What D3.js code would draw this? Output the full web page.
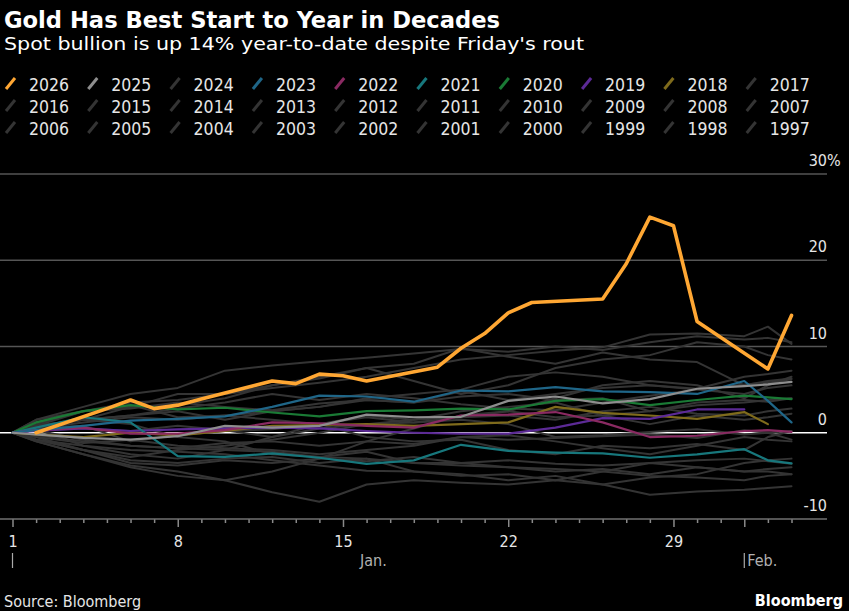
<!DOCTYPE html>
<html>
<head>
<meta charset="utf-8">
<title>Gold Has Best Start to Year in Decades</title>
<script src="https://cdn.jsdelivr.net/npm/d3@7"></script>
<style>
  html, body { margin: 0; padding: 0; background: #000; }
  svg { display: block; }
  text { font-family: "DejaVu Sans Condensed", "DejaVu Sans", sans-serif; }
</style>
</head>
<body>
<svg id="chart" width="849" height="611"></svg>
<script>
// ---- data (percent change from year start) ----
var legendYears = [2026, 2025, 2024, 2023, 2022, 2021, 2020, 2019, 2018, 2017,
                   2016, 2015, 2014, 2013, 2012, 2011, 2010, 2009, 2008, 2007,
                   2006, 2005, 2004, 2003, 2002, 2001, 2000, 1999, 1998, 1997];

// 2026 trading days (day of year) and values
var days2026 = [2, 5, 6, 7, 8, 9, 12, 13, 14, 15, 16, 19, 20, 21, 22, 23, 26, 27, 28, 29, 30, 33, 34];
var y2026 = [0, 2.8, 3.8, 2.8, 3.2, 3.9, 6.0, 5.7, 6.8, 6.6, 6.0, 7.6, 9.8, 11.5, 13.9, 15.1, 15.5, 19.6, 25.0, 24.0, 12.9, 7.4, 13.6];

// other years, read at these days
var gridDays = [1, 2, 4, 6, 8, 10, 12, 14, 16, 18, 20, 22, 24, 26, 28, 30, 32, 33, 34];

var y2025 = [0, -0.2, -0.6, -0.8, -0.4, 0.8, 0.6, 0.8, 2.1, 1.8, 1.85, 3.7, 4.2, 3.4, 3.9, 5.1, 5.4, 5.6, 5.9];
var y2024 = [0, 0.3, -0.8, -1.5, -1.8, -1.2, -1.0, -1.5, -1.0, -1.3, -0.5, -0.8, -0.6, -0.4, -0.2, -0.6, 0.3, 0.0, 0.2];
var y2023 = [0, 0.3, 0.8, 1.4, 1.6, 1.9, 3.0, 4.3, 4.2, 3.6, 4.9, 4.8, 5.3, 4.8, 4.7, 4.5, 6.0, 3.7, 1.2];
var y2022 = [0, 0.3, 0.6, -0.1, -0.1, 0.3, 1.2, 1.1, 0.8, 0.6, 2.0, 2.1, 2.4, 1.2, -0.5, -0.35, 0.2, 0.3, 0.1];
var y2021 = [0, 0.6, 1.8, 1.2, -2.7, -2.8, -2.4, -2.9, -3.6, -3.2, -1.4, -2.1, -2.3, -2.4, -2.9, -2.5, -1.9, -3.2, -3.55];
var y2020 = [0, 1.2, 2.5, 3.2, 2.7, 2.9, 2.35, 1.9, 2.5, 2.6, 2.8, 2.7, 3.7, 3.9, 3.2, 3.8, 4.3, 4.1, 3.9];
var y2019 = [0, 0.2, 0.5, 0.2, 0.4, 0.5, 0.6, 0.5, 0.2, 0.0, -0.1, -0.1, 0.6, 1.7, 1.6, 2.7, 2.7];
var y2018 = [0, -0.2, -0.5, 0.0, -0.3, 0.2, 0.8, 0.9, 1.0, 0.8, 1.0, 1.2, 3.0, 2.3, 2.0, 1.6, 2.4, 1.0];
var y2017 = [0, 0.8, 1.5, 2.0, 2.8, 3.5, 4.5, 3.8, 4.5, 4.0, 3.3, 2.8, 2.6, 3.5, 4.3, 5.0, 5.6, 5.8, 6.2];
var y2016 = [0, 1.0, 2.5, 2.8, 3.5, 3.0, 2.6, 3.4, 3.8, 3.5, 4.8, 3.8, 4.5, 5.2, 5.5, 5.1, 6.5, 6.8, 7.2];
var y2015 = [0, 0.8, 1.5, 3.0, 3.2, 4.0, 5.5, 6.3, 7.5, 8.0, 9.8, 8.8, 8.0, 9.3, 8.5, 8.2, 5.5, 6.0, 6.3];
var y2014 = [0, 0.5, 1.2, 1.8, 1.5, 2.0, 2.5, 3.0, 3.8, 3.5, 4.2, 4.5, 3.8, 4.0, 2.5, 3.2, 3.5, 3.8, 4.0];
var y2013 = [0, 0.5, 0.8, -1.0, -0.3, 0.2, 0.4, 1.0, 1.8, 1.2, 1.5, 1.0, -0.5, -0.3, 0.1, 0.4, -0.2, 0.0, -0.8];
var y2012 = [0, 1.2, 2.5, 3.0, 4.5, 4.5, 5.2, 5.8, 6.5, 7.5, 8.5, 9.0, 9.5, 9.9, 11.4, 11.5, 11.2, 12.3, 10.3];
var y2011 = [0, -0.8, -2.0, -3.2, -3.5, -3.0, -2.8, -3.5, -3.0, -4.5, -4.8, -5.5, -5.0, -6.0, -5.2, -4.8, -3.5, -3.2, -3.0];
var y2010 = [0, 1.5, 2.5, 3.2, 1.8, 2.0, 1.5, 1.0, -0.5, -1.0, -0.8, -2.0, -2.5, -1.5, -1.8, -1.3, -2.0, -0.5, 0.2];
var y2009 = [0, -1.0, -2.5, -4.0, -5.0, -5.5, -4.5, -3.0, -1.0, 0.5, 2.0, 2.5, 4.0, 5.5, 6.0, 5.5, 4.0, 5.5, 6.5];
var y2008 = [0, 0.8, 2.5, 3.5, 3.8, 4.5, 5.5, 6.5, 7.5, 6.0, 4.5, 5.5, 7.5, 8.5, 9.0, 10.5, 10.0, 9.0, 8.5];
var y2007 = [0, -0.5, -2.0, -2.8, -2.0, -1.5, -0.8, 0.0, 1.0, 1.5, 1.8, 2.5, 1.8, 2.0, 2.5, 3.5, 3.8, 3.6, 4.0];
var y2006 = [0, 1.5, 3.0, 4.5, 5.2, 7.2, 7.8, 8.3, 8.7, 9.2, 9.7, 9.4, 10.0, 9.6, 10.5, 11.2, 10.8, 11.0, 10.5];
var y2005 = [0, -0.8, -2.0, -3.5, -3.8, -3.2, -3.5, -3.0, -3.3, -2.8, -3.5, -3.2, -3.6, -3.8, -3.5, -3.2, -3.0, -3.3, -3.6];
var y2004 = [0, 0.8, 1.5, 1.0, -0.5, -1.0, -2.5, -2.8, -2.2, -3.5, -3.5, -4.0, -4.5, -4.2, -4.8, -4.0, -4.5, -4.5, -4.8];
var y2003 = [0, 0.5, 1.5, 2.0, 2.5, 1.5, 2.5, 3.0, 4.0, 4.5, 5.0, 6.5, 7.0, 6.5, 5.5, 5.0, 4.5, 5.2, 5.5];
var y2002 = [0, 0.3, 0.5, 0.2, 0.8, 0.3, -0.5, 0.5, 1.0, 1.2, 1.8, 2.0, 1.5, 2.5, 3.0, 2.2, 2.0, 2.5, 2.8];
var y2001 = [0, -0.8, -1.5, -2.0, -2.2, -2.5, -3.2, -3.8, -4.4, -4.5, -5.0, -4.8, -5.5, -4.5, -3.5, -4.0, -4.5, -4.2, -4.0];
var y2000 = [0, -0.5, -1.2, -0.8, -1.5, -1.8, -2.0, -2.5, -2.0, -1.5, -0.5, -0.3, -1.0, -1.8, -2.5, -1.5, -0.5, -0.8, -1.0];
var y1999 = [0, -0.3, -1.0, -1.5, -1.8, -2.0, -2.2, -2.8, -3.0, -3.5, -3.8, -4.0, -4.2, -4.5, -5.0, -5.2, -5.5, -5.0, -4.8];
var y1998 = [0, 0.5, -1.5, -2.5, -3.0, -2.0, -0.5, 1.0, 2.0, 1.5, 2.5, 3.0, 3.5, 2.0, 1.0, 2.0, 1.5, 1.8, 2.2];
var y1997 = [0, -1.0, -2.5, -3.8, -4.5, -5.5, -6.9, -8.0, -6.0, -5.5, -5.8, -6.0, -5.5, -6.0, -7.2, -6.8, -6.6, -6.4, -6.2];

var yTicks = [-10, 0, 10, 20, 30];
var majorDays = [1, 8, 15, 22, 29, 32];   // 32 = Feb 1
var dayLabels = { 1: '1', 8: '8', 15: '15', 22: '22', 29: '29' };

// ---- styles ----
var colors = {
  2026: '#ffa733', 2025: '#8e8e8e', 2023: '#1f6688', 2022: '#8a2a62',
  2021: '#17777c', 2020: '#1a7a35', 2019: '#5c2a96', 2018: '#7f6b1c'
};
var grayColor = '#343434';
function colorOf(yr) { return colors[yr] || grayColor; }

var seriesByYear = {
  2025: y2025, 2024: y2024, 2023: y2023, 2022: y2022, 2021: y2021, 2020: y2020,
  2019: y2019, 2018: y2018, 2017: y2017, 2016: y2016, 2015: y2015, 2014: y2014,
  2013: y2013, 2012: y2012, 2011: y2011, 2010: y2010, 2009: y2009, 2008: y2008,
  2007: y2007, 2006: y2006, 2005: y2005, 2004: y2004, 2003: y2003, 2002: y2002,
  2001: y2001, 2000: y2000, 1999: y1999, 1998: y1998, 1997: y1997
};

var svg = d3.select('#chart');
svg.append('rect').attr('width', 849).attr('height', 611).attr('fill', '#000');

var x = d3.scaleLinear().domain([1, 34]).range([12.5, 791.5]);
var y = d3.scaleLinear().domain([-10, 30]).range([519, 174]);
var plotRight = 827;

// ---- titles ----
svg.append('text')
  .attr('x', 4).attr('y', 28)
  .attr('fill', '#fff')
  .attr('font-size', 23).attr('font-weight', 'bold')
  .attr('textLength', 496).attr('lengthAdjust', 'spacingAndGlyphs')
  .text('Gold Has Best Start to Year in Decades');

svg.append('text')
  .attr('x', 4).attr('y', 50)
  .attr('fill', '#fff')
  .attr('font-size', 18)
  .attr('textLength', 580).attr('lengthAdjust', 'spacingAndGlyphs')
  .text("Spot bullion is up 14% year-to-date despite Friday's rout");

// ---- legend ----
var legend = svg.append('g');
var item = legend.selectAll('g.item')
  .data(legendYears)
  .enter().append('g')
    .attr('class', 'item')
    .attr('transform', function(d, i) {
      return 'translate(' + (5 + (i % 10) * 82.3) + ',' + (91 + Math.floor(i / 10) * 22) + ')';
    });
item.append('line')
  .attr('x1', 1).attr('y1', -2).attr('x2', 10).attr('y2', -13)
  .attr('stroke', function(d) { return colorOf(d); })
  .attr('stroke-width', 3);
item.append('text')
  .attr('x', 24).attr('y', 0)
  .attr('fill', '#e6e6e6')
  .attr('font-size', 17.5)
  .text(function(d) { return d; });

// ---- grid ----
svg.append('g').selectAll('line')
  .data(yTicks.filter(function(d) { return d > 0; }))
  .enter().append('line')
    .attr('x1', 0).attr('x2', plotRight)
    .attr('y1', function(d) { return y(d); })
    .attr('y2', function(d) { return y(d); })
    .attr('stroke', '#555').attr('stroke-width', 1.5);

svg.append('line')
  .attr('x1', 0).attr('x2', plotRight)
  .attr('y1', y(0)).attr('y2', y(0))
  .attr('stroke', '#fff').attr('stroke-width', 1.5);

// y labels, right aligned at grid end
svg.append('g').selectAll('text')
  .data(yTicks)
  .enter().append('text')
    .attr('x', plotRight).attr('y', function(d) { return y(d) - 8; })
    .attr('text-anchor', 'end')
    .attr('fill', '#e6e6e6').attr('font-size', 16)
    .text(function(d) { return d; });
svg.append('text')
  .attr('x', plotRight).attr('y', y(30) - 8)
  .attr('fill', '#e6e6e6').attr('font-size', 16)
  .text('%');

// ---- x axis ----
var xAxis = d3.axisBottom(x)
  .tickValues(d3.range(1, 35))
  .tickSizeOuter(0)
  .tickSizeInner(4)
  .tickPadding(13)
  .tickFormat(function(d) { return dayLabels[d] || ''; });

var gx = svg.append('g')
  .attr('transform', 'translate(0,' + y(-10) + ')')
  .call(xAxis);
gx.select('.domain').remove();
gx.selectAll('.tick line')
  .attr('stroke', '#8a8a8a').attr('stroke-width', 1.5)
  .attr('y2', function(d) { return majorDays.indexOf(d) >= 0 ? 8 : 4; });
gx.selectAll('.tick text')
  .attr('fill', '#e6e6e6')
  .attr('font-size', 16)
  .attr('font-family', '"DejaVu Sans Condensed", "DejaVu Sans", sans-serif');

svg.append('line')
  .attr('x1', 0).attr('x2', plotRight)
  .attr('y1', y(-10)).attr('y2', y(-10))
  .attr('stroke', '#707070').attr('stroke-width', 1.5);

// month labels
svg.append('line')
  .attr('x1', x(1)).attr('x2', x(1)).attr('y1', 553).attr('y2', 568)
  .attr('stroke', '#aaa').attr('stroke-width', 1.2);
svg.append('text')
  .attr('x', 360).attr('y', 566)
  .attr('fill', '#b0b0b0').attr('font-size', 16)
  .text('Jan.');
svg.append('line')
  .attr('x1', x(32)).attr('x2', x(32)).attr('y1', 553).attr('y2', 568)
  .attr('stroke', '#aaa').attr('stroke-width', 1.2);
svg.append('text')
  .attr('x', x(32) + 3).attr('y', 566)
  .attr('fill', '#b0b0b0').attr('font-size', 16)
  .text('Feb.');

// ---- lines ----
var line = d3.line()
  .x(function(d) { return x(d[0]); })
  .y(function(d) { return y(d[1]); });

function pointsFor(yr) {
  var vals = seriesByYear[yr];
  return vals.map(function(v, i) { return [gridDays[i], v]; });
}

var others = legendYears.filter(function(yr) { return yr !== 2026; });
var grays = others.filter(function(yr) { return !colors[yr]; });
var colored = others.filter(function(yr) { return colors[yr]; }).reverse();

var lines = svg.append('g')
  .attr('fill', 'none')
  .attr('stroke-linejoin', 'round')
  .attr('stroke-linecap', 'round');

lines.selectAll('path.gray')
  .data(grays)
  .enter().append('path')
    .attr('class', 'gray')
    .attr('d', function(yr) { return line(pointsFor(yr)); })
    .attr('stroke', grayColor)
    .attr('stroke-width', 2);

lines.selectAll('path.col')
  .data(colored)
  .enter().append('path')
    .attr('class', 'col')
    .attr('d', function(yr) { return line(pointsFor(yr)); })
    .attr('stroke', function(yr) { return colorOf(yr); })
    .attr('stroke-width', 2.2);

lines.append('path')
  .attr('d', line(days2026.map(function(dd, i) { return [dd, y2026[i]]; })))
  .attr('stroke', colors[2026])
  .attr('stroke-width', 3.6);

// ---- footer ----
svg.append('text')
  .attr('x', 4).attr('y', 607)
  .attr('fill', '#e6e6e6').attr('font-size', 16)
  .text('Source: Bloomberg');
svg.append('text')
  .attr('x', 843).attr('y', 606)
  .attr('text-anchor', 'end')
  .attr('fill', '#fff').attr('font-size', 16).attr('font-weight', 'bold')
  .text('Bloomberg');
</script>
</body>
</html>
